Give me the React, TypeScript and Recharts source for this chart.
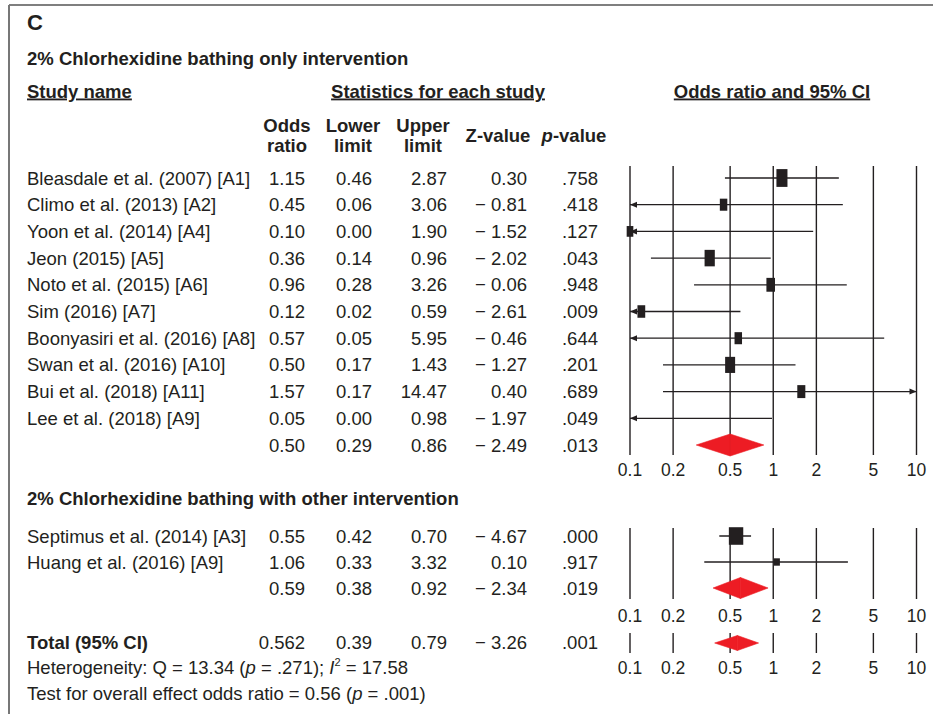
import { ComposedChart, ReferenceLine, Scatter, XAxis, YAxis } from "recharts";

const FONT = '"Liberation Sans", Arial, Helvetica, sans-serif';
const INK = "#231f20";
const RED = "#ed1c24";

const TICKS = [0.1, 0.2, 0.5, 1, 2, 5, 10];

// 2% chlorhexidine bathing only
const studies1 = [
  "Bleasdale et al. (2007) [A1]",
  "Climo et al. (2013) [A2]",
  "Yoon et al. (2014) [A4]",
  "Jeon (2015) [A5]",
  "Noto et al. (2015) [A6]",
  "Sim (2016) [A7]",
  "Boonyasiri et al. (2016) [A8]",
  "Swan et al. (2016) [A10]",
  "Bui et al. (2018) [A11]",
  "Lee et al. (2018) [A9]",
];
const or1 = [1.15, 0.45, 0.1, 0.36, 0.96, 0.12, 0.57, 0.5, 1.57, 0.05];
const lower1 = [0.46, 0.06, 0.0, 0.14, 0.28, 0.02, 0.05, 0.17, 0.17, 0.0];
const upper1 = [2.87, 3.06, 1.9, 0.96, 3.26, 0.59, 5.95, 1.43, 14.47, 0.98];
const z1 = [0.3, -0.81, -1.52, -2.02, -0.06, -2.61, -0.46, -1.27, 0.4, -1.97];
const p1 = [".758", ".418", ".127", ".043", ".948", ".009", ".644", ".201", ".689", ".049"];
const weights1 = [19.8, 9.1, 7.2, 17, 12, 9.8, 9.1, 16.2, 10.5, 0.5];
const pooled1 = [0.5, 0.29, 0.86];
const pooledZ1 = -2.49;
const pooledP1 = ".013";

// 2% chlorhexidine bathing with other intervention
const studies2 = ["Septimus et al. (2014) [A3]", "Huang et al. (2016) [A9]"];
const or2 = [0.55, 1.06];
const lower2 = [0.42, 0.33];
const upper2 = [0.7, 3.32];
const z2 = [-4.67, 0.1];
const p2 = [".000", ".917"];
const weights2 = [23.8, 4.2];
const pooled2 = [0.59, 0.38, 0.92];
const pooledZ2 = -2.34;
const pooledP2 = ".019";

// overall
const total = [0.562, 0.39, 0.79];
const totalZ = -3.26;
const totalP = ".001";

const AXIS_MIN = TICKS[0];
const AXIS_MAX = TICKS[TICKS.length - 1];

function fmt(n: number) {
  const h = n * 100;
  return Math.abs(h - Math.round(h)) < 1e-6 ? n.toFixed(2) : n.toFixed(3);
}
function fmtZ(n: number) {
  return n < 0 ? `\u2212 ${Math.abs(n).toFixed(2)}` : n.toFixed(2);
}

function ciShape(arrowLeft: boolean, arrowRight: boolean) {
  // eslint-disable-next-line @typescript-eslint/no-explicit-any
  return (p: any) => {
    const { x1, y1, x2, y2 } = p;
    return (
      <g>
        <line x1={x1} y1={y1} x2={x2} y2={y2} stroke={INK} strokeWidth={1.3} />
        {arrowLeft && <polygon points={`${x1},${y1} ${x1 + 7},${y1 - 3} ${x1 + 7},${y1 + 3}`} fill={INK} />}
        {arrowRight && <polygon points={`${x2},${y2} ${x2 - 7},${y2 - 3} ${x2 - 7},${y2 + 3}`} fill={INK} />}
      </g>
    );
  };
}

function halfDiamond(side: "left" | "right", h: number) {
  // eslint-disable-next-line @typescript-eslint/no-explicit-any
  return (p: any) => {
    const { x1, y1, x2 } = p;
    const pts =
      side === "left"
        ? `${x1},${y1} ${x2},${y1 - h} ${x2},${y1 + h}`
        : `${x1},${y1 - h} ${x2},${y1} ${x1},${y1 + h}`;
    return <polygon points={pts} fill={RED} stroke={RED} strokeWidth={0.6} />;
  };
}

interface ForestProps {
  plotTop: number;
  plotBottom: number;
  rowTop: number;
  rowStep: number;
  or: number[];
  lower: number[];
  upper: number[];
  weights: number[];
  pooled: number[];
  diamondHalf: number;
  boxScale: number;
  boxAspect: number;
  tickMargin: number;
}

function Forest(props: ForestProps) {
  const { plotTop, plotBottom, rowTop, rowStep, or, lower, upper, weights, pooled } = props;
  const marginTop = 10;
  const axisH = 30;
  const height = marginTop + (plotBottom - plotTop) + axisH;
  const yDomain = [(plotTop - rowTop) / rowStep, (plotBottom - rowTop) / rowStep];
  const pooledRow = or.length;

  // study boxes, plus the pooled estimate as an invisible point (w = 0)
  const boxes = or
    .map((v, i) => ({ x: v, y: i, w: weights[i] }))
    .filter((d) => d.x >= AXIS_MIN && d.x <= AXIS_MAX)
    .concat([{ x: pooled[0], y: pooledRow, w: 0 }]);

  return (
    <div style={{ position: "absolute", left: 600, top: plotTop - marginTop }}>
      <ComposedChart width={333} height={height} margin={{ top: marginTop, right: 16.5, bottom: 0, left: 30 }}>
        <XAxis
          type="number"
          dataKey="x"
          scale="log"
          domain={[AXIS_MIN, AXIS_MAX]}
          ticks={TICKS}
          interval={0}
          axisLine={false}
          tickLine={false}
          tickMargin={props.tickMargin}
          height={axisH}
          tick={{ fill: INK, fontSize: 17.5, fontFamily: FONT }}
        />
        <YAxis type="number" dataKey="y" domain={yDomain} reversed hide width={0} />
        {TICKS.map((t) => (
          <ReferenceLine key={`g${t}`} x={t} stroke={INK} strokeWidth={1.4} ifOverflow="visible" />
        ))}
        {or.map((_, i) => {
          const lo = Math.max(lower[i], AXIS_MIN);
          const hi = Math.min(upper[i], AXIS_MAX);
          return (
            <ReferenceLine
              key={`ci${i}`}
              segment={[
                { x: lo, y: i },
                { x: hi, y: i },
              ]}
              ifOverflow="visible"
              shape={ciShape(lower[i] < AXIS_MIN, upper[i] > AXIS_MAX)}
            />
          );
        })}
        <ReferenceLine
          segment={[
            { x: pooled[1], y: pooledRow },
            { x: pooled[0], y: pooledRow },
          ]}
          ifOverflow="visible"
          shape={halfDiamond("left", props.diamondHalf)}
        />
        <ReferenceLine
          segment={[
            { x: pooled[0], y: pooledRow },
            { x: pooled[2], y: pooledRow },
          ]}
          ifOverflow="visible"
          shape={halfDiamond("right", props.diamondHalf)}
        />
        <Scatter
          data={boxes}
          isAnimationActive={false}
          // eslint-disable-next-line @typescript-eslint/no-explicit-any
          shape={(s: any) => {
            if (!s.payload.w) return <g />;
            const h = props.boxScale * Math.sqrt(s.payload.w);
            const w = h * props.boxAspect;
            return <rect x={s.cx - w / 2} y={s.cy - h / 2} width={w} height={h} fill={INK} />;
          }}
        />
      </ComposedChart>
    </div>
  );
}

const BODY = 18.5;
const COLS = [305, 372, 447, 527, 598];

function StatRow({ y, name, vals, bold }: { y: number; name?: string; vals: string[]; bold?: boolean }) {
  const base = y + 6.5;
  return (
    <g fontSize={BODY} fill={INK}>
      {name && (
        <text x={27} y={base} fontWeight={bold ? "bold" : "normal"}>
          {name}
        </text>
      )}
      {vals.map((v, i) => (
        <text key={i} x={COLS[i]} y={base} textAnchor="end">
          {v}
        </text>
      ))}
    </g>
  );
}

export default function App() {
  const r1Top = 178;
  const r1Step = 26.7;
  const r2Top = 536;
  const r2Step = 26;

  return (
    <div style={{ position: "absolute", left: 0, top: 0, width: 933, height: 714, background: "#fff", fontFamily: FONT }}>
      <svg width={933} height={714} style={{ position: "absolute", left: 0, top: 0 }} fontFamily={FONT}>
        <line x1={9} y1={5} x2={933} y2={5} stroke="#555" strokeWidth={1.5} />
        <line x1={9} y1={5} x2={9} y2={714} stroke="#777" strokeWidth={2} />

        <text x={27} y={30} fontSize={22} fontWeight="bold" fill={INK}>
          C
        </text>
        <text x={27} y={64.5} fontSize={BODY} fontWeight="bold" fill={INK}>
          2% Chlorhexidine bathing only intervention
        </text>

        <g fontSize={BODY} fontWeight="bold" fill={INK} style={{ textDecoration: "underline" }}>
          <text x={27} y={97.5}>Study name</text>
          <text x={438} y={97.5} textAnchor="middle">
            Statistics for each study
          </text>
          <text x={772} y={97.5} textAnchor="middle">
            Odds ratio and 95% CI
          </text>
        </g>

        <g fontSize={BODY} fontWeight="bold" fill={INK} textAnchor="middle">
          <text x={287} y={131.5}>Odds</text>
          <text x={287} y={151.5}>ratio</text>
          <text x={353} y={131.5}>Lower</text>
          <text x={353} y={151.5}>limit</text>
          <text x={423} y={131.5}>Upper</text>
          <text x={423} y={151.5}>limit</text>
          <text x={498} y={141.5}>Z-value</text>
          <text x={574} y={141.5}>
            <tspan fontStyle="italic">p</tspan>-value
          </text>
        </g>

        {studies1.map((s, i) => (
          <StatRow
            key={s}
            y={r1Top + r1Step * i}
            name={s}
            vals={[fmt(or1[i]), fmt(lower1[i]), fmt(upper1[i]), fmtZ(z1[i]), p1[i]]}
          />
        ))}
        <StatRow
          y={r1Top + r1Step * studies1.length}
          vals={[fmt(pooled1[0]), fmt(pooled1[1]), fmt(pooled1[2]), fmtZ(pooledZ1), pooledP1]}
        />

        <text x={27} y={504.5} fontSize={BODY} fontWeight="bold" fill={INK}>
          2% Chlorhexidine bathing with other intervention
        </text>
        {studies2.map((s, i) => (
          <StatRow
            key={s}
            y={r2Top + r2Step * i}
            name={s}
            vals={[fmt(or2[i]), fmt(lower2[i]), fmt(upper2[i]), fmtZ(z2[i]), p2[i]]}
          />
        ))}
        <StatRow
          y={r2Top + r2Step * studies2.length}
          vals={[fmt(pooled2[0]), fmt(pooled2[1]), fmt(pooled2[2]), fmtZ(pooledZ2), pooledP2]}
        />

        <StatRow
          y={642}
          name="Total (95% CI)"
          bold
          vals={[fmt(total[0]), fmt(total[1]), fmt(total[2]), fmtZ(totalZ), totalP]}
        />
        <text x={27} y={673.5} fontSize={BODY} fill={INK}>
          Heterogeneity: Q = 13.34 (<tspan fontStyle="italic">p</tspan> = .271);{" "}
          <tspan fontStyle="italic">I</tspan>
          <tspan fontSize={11} dy={-8}>
            2
          </tspan>
          <tspan dy={8}> = 17.58</tspan>
        </text>
        <text x={27} y={699.5} fontSize={BODY} fill={INK}>
          Test for overall effect odds ratio = 0.56 (<tspan fontStyle="italic">p</tspan> = .001)
        </text>
      </svg>

      <Forest
        plotTop={166}
        plotBottom={455}
        rowTop={r1Top}
        rowStep={r1Step}
        or={or1}
        lower={lower1}
        upper={upper1}
        weights={weights1}
        pooled={pooled1}
        diamondHalf={11}
        boxScale={4}
        boxAspect={0.62}
        tickMargin={3}
      />
      <Forest
        plotTop={528}
        plotBottom={599}
        rowTop={r2Top}
        rowStep={r2Step}
        or={or2}
        lower={lower2}
        upper={upper2}
        weights={weights2}
        pooled={pooled2}
        diamondHalf={10.5}
        boxScale={3.6}
        boxAspect={0.82}
        tickMargin={5}
      />
      <Forest
        plotTop={633}
        plotBottom={653}
        rowTop={643}
        rowStep={1}
        or={[]}
        lower={[]}
        upper={[]}
        weights={[]}
        pooled={total}
        diamondHalf={7.5}
        boxScale={3.6}
        boxAspect={0.82}
        tickMargin={3}
      />
    </div>
  );
}
